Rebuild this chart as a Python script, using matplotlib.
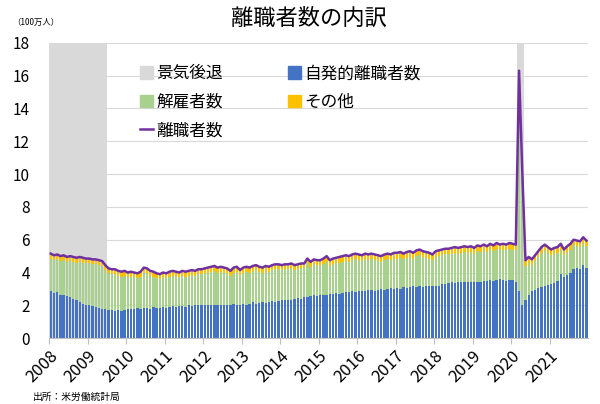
import matplotlib.pyplot as plt
from matplotlib.patches import Patch
from matplotlib.lines import Line2D
import numpy as np
import pandas as pd

plt.rcParams['font.family'] = ['Noto Sans CJK JP', 'DejaVu Sans']

months = pd.date_range('2008-01-01', '2021-12-01', freq='MS')
years = list(range(2008, 2022))

# 離職者数 (100万人), 月次 2008-01 .. 2021-12
total = [
    5.15, 5.05, 5.10, 5.00, 5.05, 4.95, 5.00, 4.95, 4.90, 4.95, 4.90, 4.85,
    4.85, 4.80, 4.80, 4.75, 4.70, 4.45, 4.25, 4.20, 4.20, 4.10, 4.05, 4.10,
    4.00, 4.05, 4.00, 3.95, 4.05, 4.30, 4.25, 4.10, 4.05, 3.95, 3.90, 4.00,
    3.95, 4.05, 4.10, 4.05, 4.00, 4.10, 4.05, 4.10, 4.15, 4.10, 4.20, 4.20,
    4.25, 4.30, 4.35, 4.40, 4.30, 4.35, 4.30, 4.25, 4.10, 4.30, 4.35, 4.15,
    4.30, 4.35, 4.30, 4.40, 4.45, 4.35, 4.30, 4.40, 4.35, 4.45, 4.50, 4.50,
    4.45, 4.50, 4.50, 4.55, 4.45, 4.50, 4.55, 4.55, 4.85, 4.65, 4.80, 4.75,
    4.75, 4.85, 5.00, 4.75, 4.85, 4.90, 4.95, 5.00, 5.05, 5.00, 5.10, 5.15,
    5.10, 5.05, 5.15, 5.10, 5.15, 5.10, 5.05, 5.00, 5.10, 5.15, 5.10, 5.20,
    5.20, 5.25, 5.15, 5.25, 5.30, 5.20, 5.35, 5.40, 5.30, 5.25, 5.20, 5.10,
    5.30, 5.35, 5.40, 5.45, 5.45, 5.50, 5.55, 5.50, 5.55, 5.60, 5.55, 5.60,
    5.50, 5.65, 5.60, 5.70, 5.60, 5.75, 5.65, 5.80, 5.70, 5.75, 5.70, 5.80,
    5.75, 5.70, 16.30, 10.20, 4.75, 4.95, 4.80, 5.05, 5.30, 5.55, 5.70, 5.55,
    5.40, 5.50, 5.55, 5.75, 5.40, 5.60, 5.75, 6.00, 5.95, 5.90, 6.15, 5.95,
]
quits = [
    2.85, 2.75, 2.80, 2.65, 2.60, 2.55, 2.50, 2.40, 2.35, 2.20, 2.10, 2.00,
    2.00, 1.95, 1.90, 1.85, 1.80, 1.75, 1.70, 1.70, 1.65, 1.70, 1.65, 1.70,
    1.80, 1.75, 1.80, 1.85, 1.80, 1.85, 1.85, 1.80, 1.90, 1.85, 1.85, 1.90,
    1.85, 1.90, 1.95, 1.90, 1.95, 1.95, 1.90, 2.00, 1.95, 2.00, 2.00, 2.00,
    2.00, 2.00, 2.05, 2.05, 2.00, 2.05, 2.00, 2.05, 2.00, 2.10, 2.05, 2.05,
    2.10, 2.05, 2.10, 2.20, 2.10, 2.15, 2.20, 2.15, 2.20, 2.25, 2.20, 2.25,
    2.30, 2.30, 2.35, 2.35, 2.40, 2.45, 2.40, 2.50, 2.50, 2.55, 2.60, 2.55,
    2.60, 2.65, 2.60, 2.70, 2.70, 2.75, 2.70, 2.75, 2.80, 2.80, 2.85, 2.80,
    2.85, 2.90, 2.85, 2.95, 2.95, 2.90, 2.95, 3.00, 2.95, 3.00, 3.05, 3.00,
    3.05, 3.00, 3.10, 3.05, 3.10, 3.15, 3.10, 3.15, 3.10, 3.20, 3.15, 3.15,
    3.15, 3.20, 3.30, 3.30, 3.35, 3.40, 3.35, 3.40, 3.40, 3.45, 3.40, 3.45,
    3.40, 3.45, 3.45, 3.50, 3.50, 3.55, 3.50, 3.55, 3.60, 3.55, 3.50, 3.55,
    3.55, 3.45, 2.90, 2.05, 2.30, 2.65, 2.85, 2.95, 3.05, 3.10, 3.20, 3.25,
    3.30, 3.35, 3.50, 3.90, 3.70, 3.85, 4.00, 4.20, 4.30, 4.20, 4.45, 4.30,
]
layoffs = [
    2.00, 2.00, 2.00, 2.05, 2.15, 2.10, 2.20, 2.25, 2.25, 2.45, 2.50, 2.55,
    2.55, 2.55, 2.60, 2.60, 2.60, 2.40, 2.25, 2.20, 2.25, 2.10, 2.10, 2.10,
    1.90, 2.00, 1.90, 1.80, 1.95, 2.15, 2.10, 2.00, 1.85, 1.80, 1.75, 1.80,
    1.80, 1.85, 1.85, 1.85, 1.75, 1.85, 1.85, 1.80, 1.90, 1.80, 1.90, 1.90,
    1.95, 2.00, 2.00, 2.05, 2.00, 2.00, 2.00, 1.90, 1.80, 1.90, 2.00, 1.80,
    1.90, 2.00, 1.90, 1.90, 2.05, 1.90, 1.80, 1.95, 1.85, 1.90, 2.00, 1.95,
    1.85, 1.90, 1.85, 1.90, 1.75, 1.75, 1.85, 1.75, 2.05, 1.80, 1.90, 1.90,
    1.80, 1.85, 2.05, 1.70, 1.80, 1.80, 1.90, 1.90, 1.90, 1.85, 1.90, 2.00,
    1.90, 1.80, 1.95, 1.80, 1.85, 1.85, 1.75, 1.65, 1.80, 1.80, 1.70, 1.85,
    1.80, 1.90, 1.70, 1.85, 1.85, 1.70, 1.90, 1.90, 1.85, 1.70, 1.70, 1.60,
    1.80, 1.80, 1.75, 1.80, 1.75, 1.75, 1.85, 1.75, 1.80, 1.80, 1.80, 1.80,
    1.75, 1.85, 1.80, 1.85, 1.75, 1.85, 1.80, 1.90, 1.75, 1.85, 1.85, 1.90,
    1.85, 1.90, 13.00, 7.75, 2.10, 1.95, 1.60, 1.75, 1.90, 2.10, 2.15, 1.95,
    1.75, 1.80, 1.70, 1.50, 1.35, 1.40, 1.40, 1.45, 1.30, 1.35, 1.35, 1.30,
]
other = [0.30] * 84 + [0.35] * 62 + [0.40, 0.40] + [0.35] * 20

recessions = [('2008-01-01', '2009-06-01'), ('2020-03-01', '2020-04-01')]

x = np.arange(len(months))
quits = np.array(quits)
layoffs = np.array(layoffs)
other = np.array(other)

fig = plt.figure(figsize=(6, 4.04), dpi=100)
ax = fig.add_axes([0.082, 0.163, 0.898, 0.731])

for s, e in recessions:
    i0 = months.get_loc(pd.Timestamp(s))
    i1 = months.get_loc(pd.Timestamp(e))
    ax.axvspan(i0 - 0.5, i1 + 0.5, color='#D9D9D9', lw=0, zorder=1)

w = 0.72
ax.bar(x, quits, w, color='#4472C4', zorder=2)
ax.bar(x, layoffs, w, bottom=quits, color='#A9D18E', zorder=2)
ax.bar(x, other, w, bottom=quits + layoffs, color='#FFC000', zorder=2)
ax.plot(x, total, color='#7030A0', lw=1.8, zorder=3)

ax.set_xlim(-0.5, len(months) - 0.5)
ax.set_ylim(0, 18)
ax.set_yticks(range(0, 19, 2))
ax.tick_params(axis='y', length=0, pad=14, labelsize=11)
ticks = [months.get_loc(pd.Timestamp(f'{y}-01-01')) - 0.5 for y in years]
ax.set_xticks(ticks)
ax.set_xticklabels([str(y) for y in years], rotation=45, ha='right',
                   rotation_mode='anchor', fontsize=12)
ax.tick_params(axis='x', length=4, color='#BFBFBF', pad=3)
ax.yaxis.grid(True, color='#D9D9D9', lw=0.8)
ax.set_axisbelow(True)
for sp in ['top', 'right', 'left']:
    ax.spines[sp].set_visible(False)
ax.spines['bottom'].set_color('#BFBFBF')

handles = [Patch(color='#D9D9D9'), Patch(color='#A9D18E'),
           Line2D([], [], color='#7030A0', lw=1.8),
           Patch(color='#4472C4'), Patch(color='#FFC000')]
labels = ['景気後退', '解雇者数', '離職者数', '自発的離職者数', 'その他']
ax.legend(handles, labels, ncol=2, loc='upper left', bbox_to_anchor=(0.14, 0.975),
          frameon=False, fontsize=12, handlelength=0.8, handleheight=0.8,
          handletextpad=0.2, columnspacing=3.9, labelspacing=0.7)

fig.text(0.515, 0.955, '離職者数の内訳', ha='center', va='center', fontsize=16)
fig.text(0.02, 0.945, '（100万人）', ha='left', va='center', fontsize=6)
fig.text(0.055, 0.017, '出所：米労働統計局', ha='left', va='center', fontsize=7)

fig.savefig('out.png', dpi=100)
